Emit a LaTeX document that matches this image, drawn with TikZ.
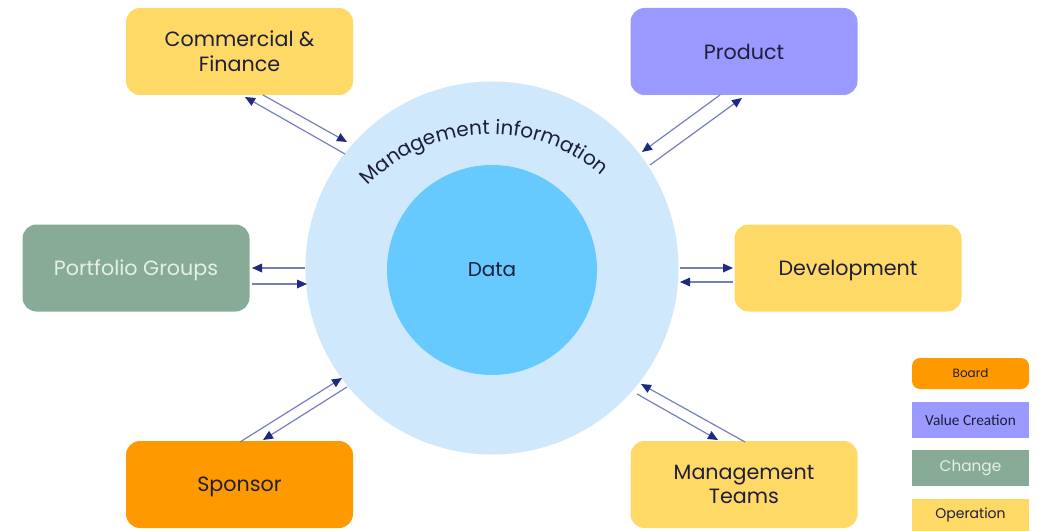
\documentclass[tikz,border=0pt]{standalone}
\usepackage{fontspec}
\setmainfont{Poppins}
\newfontfamily\carlito{Carlito}
\usetikzlibrary{arrows.meta, positioning, decorations.text}

\definecolor{opyellow}{HTML}{FFD966}
\definecolor{vclilac}{HTML}{9999FF}
\definecolor{chgreen}{HTML}{88AB98}
\definecolor{bdorange}{HTML}{FF9900}
\definecolor{miblue}{HTML}{CFE8FC}
\definecolor{datablue}{HTML}{66CAFF}
\definecolor{txtdark}{HTML}{1E1E38}
\definecolor{txtlight}{HTML}{E4EFE8}
\definecolor{linkclr}{HTML}{7480BE}
\definecolor{headclr}{HTML}{1C2A82}

\begin{document}
\begin{tikzpicture} [x=0.75pt, y=-0.75pt,
    box/.style = {rounded corners=10.5pt, minimum width=170.25pt,
        minimum height=65.25pt, align=center, text=txtdark,
        font=\fontsize{15.5}{18.5}\selectfont},
    key/.style = {minimum width=87.75pt, minimum height=27pt,
        inner sep=0pt, text=txtdark, font=\fontsize{9}{10}\selectfont},
    link/.style = {draw=linkclr, line width=0.9pt,
        -{Triangle[length=7.5pt, width=6.5pt, color=headclr]}}]
    \useasboundingbox (0,0) rectangle (1038,531);

    % the two circles
    \node (mi) [circle, fill=miblue, inner sep=0pt,
        minimum size=279.75pt] at (492,268) {};
    \node (data) [circle, fill=datablue, inner sep=0pt, minimum size=157.5pt,
        text=txtdark, font=\fontsize{15}{18}\selectfont] at (492,270) {Data};
    \coordinate (mic) at (490,303);
    \path [decorate, decoration={text along path, text align=center,
        text={|\color{txtdark}\fontsize{15}{18}\selectfont|Management information}}]
        ([shift={(137:126.75pt)}]mic) arc [start angle=137, end angle=48,
        radius=126.75pt];

    % the six boxes
    \node (cf) [box, fill=opyellow] at (239.5,51.5) {Commercial \&\\Finance};
    \node (prod) [box, fill=vclilac] at (744,51.5) {Product};
    \node (pg) [box, fill=chgreen, text=txtlight,
        text depth=0pt] at (136,268) {Portfolio Groups};
    \node (dev) [box, fill=opyellow, text depth=0pt] at (848,268) {Development};
    \node (sp) [box, fill=bdorange, text depth=0pt] at (239.5,484.5) {Sponsor};
    \node (mt) [box, fill=opyellow] at (744,484.5) {Management\\Teams};

    % legend
    \node (kboard) [key, fill=bdorange, rounded corners=6pt,
        minimum height=23.25pt] at (970.5,373.5) {Board};
    \node (kvalue) [key, fill=vclilac,
        font=\carlito\fontsize{11.5}{13}\selectfont] at (970.5,420) {Value Creation};
    \node (kchange) [key, fill=chgreen, text=txtlight,
        font=\fontsize{11.5}{13}\selectfont] at (970.5,468) {Change};
    \node (kop) [key, fill=opyellow, minimum height=24.75pt,
        font=\fontsize{10.5}{12}\selectfont] at (970.5,515) {Operation};

    % ends of the links
    \coordinate (cf1) at (345,154);  \coordinate (cf2) at (245,97);
    \coordinate (cf3) at (263,95);   \coordinate (cf4) at (347,142);
    \coordinate (pr1) at (720,95);   \coordinate (pr2) at (642,152);
    \coordinate (pr3) at (650,165);  \coordinate (pr4) at (742,98);
    \coordinate (pg1) at (305,268);  \coordinate (pg2) at (252,268);
    \coordinate (pg3) at (252,284);  \coordinate (pg4) at (307,284);
    \coordinate (dv1) at (680,268);  \coordinate (dv2) at (733,268);
    \coordinate (dv3) at (733,282);  \coordinate (dv4) at (680,282);
    \coordinate (sp1) at (240,442);  \coordinate (sp2) at (342,378);
    \coordinate (sp3) at (347,387);  \coordinate (sp4) at (263,440);
    \coordinate (mt1) at (745,442);  \coordinate (mt2) at (641,384);
    \coordinate (mt3) at (637,394);  \coordinate (mt4) at (718,440);

    \path [every edge/.style={link}]
        (cf1) edge (cf2)
        (cf3) edge (cf4)
        (pr1) edge (pr2)
        (pr3) edge (pr4)
        (pg1) edge (pg2)
        (pg3) edge (pg4)
        (dv1) edge (dv2)
        (dv3) edge (dv4)
        (sp1) edge (sp2)
        (sp3) edge (sp4)
        (mt1) edge (mt2)
        (mt3) edge (mt4);
\end{tikzpicture}
\end{document}
